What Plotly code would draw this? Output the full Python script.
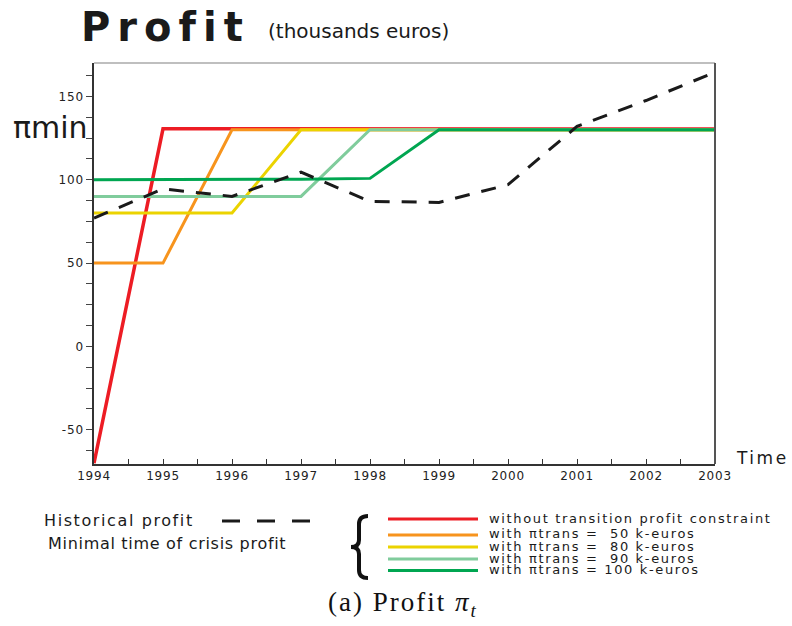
import plotly.graph_objects as go

# ---------------- data ----------------
years = [1994, 1995, 1996, 1997, 1998, 1999, 2000, 2001, 2002, 2003]
historical = [77, 94.5, 90, 104.5, 87, 86.4, 97, 132, 147.5, 164.5]
no_constraint = [-70, 130.5, 130.5, 130.5, 130.5, 130.6, 130.6, 130.7, 130.7, 130.4]
trans_50 = [50, 50, 130, 130, 130, 130, 130, 130, 130, 129.8]
trans_80 = [80, 80, 80, 130, 130, 130, 130, 130, 130, 129.8]
trans_90 = [90, 90, 90, 90, 130, 130, 130, 130, 130, 129.8]
trans_100 = [100, 100, 100, 100.3, 100.8, 130, 130, 130, 130, 130]

series_names = [
    "without transition profit constraint",
    "with \u03c0trans =\u00a0 50 k-euros",
    "with \u03c0trans =\u00a0 80 k-euros",
    "with \u03c0trans =\u00a0 90 k-euros",
    "with \u03c0trans = 100 k-euros",
]
series_values = [no_constraint, trans_50, trans_80, trans_90, trans_100]
series_colors = ["#ED1C24", "#F7941D", "#EBD300", "#80CC9C", "#00A651"]
series_widths = [3.5, 3, 3, 3, 3]

y_ticks = [-50, 0, 50, 100, 150]
y_labels = ["-50", "0", "50", "100", "150"]
x_ticks = years

# ---------------- layout geometry (pixels) ----------------
W, H = 792, 626
L, R, T, B = 94, 715, 63, 464


def px(x, y):
    """pixel -> paper coordinates"""
    return (x - L) / (R - L), (B - y) / (B - T)


def spaced(s, ls):
    return f'<span style="letter-spacing:{ls}px">{s}</span>'


fig = go.Figure()

for name, vals, col, w in zip(series_names, series_values, series_colors, series_widths):
    fig.add_trace(go.Scatter(x=years, y=vals, mode="lines", name=name,
                             line=dict(color=col, width=w), showlegend=False))

fig.add_trace(go.Scatter(x=years, y=historical, mode="lines", name="Historical profit",
                         line=dict(color="#1a1a1a", width=3, dash="15px,12px"),
                         showlegend=False))

fig.update_layout(
    width=W, height=H,
    margin=dict(l=L, r=W - R, t=T, b=H - B, pad=0),
    paper_bgcolor="white", plot_bgcolor="white",
    font=dict(family="DejaVu Sans", color="#222"),
    showlegend=False,
)

fig.update_xaxes(
    range=[1994, 2003], tickmode="array", tickvals=x_ticks,
    ticktext=[spaced(str(v), 0.8) for v in x_ticks],
    ticks="inside", ticklen=5, tickcolor="#333", tickwidth=1,
    minor=dict(dtick=0.5, tick0=1994, ticks="inside", ticklen=5, tickcolor="#333"),
    showline=True, linecolor="#333", linewidth=1.5,
    showgrid=False, zeroline=False,
    tickfont=dict(size=12, family="DejaVu Sans", color="#222"),
)
fig.update_yaxes(
    range=[-70.5, 170], tickmode="array", tickvals=y_ticks,
    ticktext=[spaced(v, 0.8) for v in y_labels],
    ticks="outside", ticklen=6, tickcolor="#444", tickwidth=1,
    minor=dict(dtick=12.5, tick0=0, ticks="outside", ticklen=6, tickcolor="#444"),
    showline=True, linecolor="#333", linewidth=1.5,
    showgrid=False, zeroline=False,
    tickfont=dict(size=12, family="DejaVu Sans", color="#222"),
)

shapes = []
# top (light) and right border lines
shapes.append(dict(type="line", xref="paper", yref="paper", x0=0, y0=1, x1=1, y1=1,
                   line=dict(color="#aaaaaa", width=1.5)))
shapes.append(dict(type="line", xref="paper", yref="paper", x0=1, y0=0, x1=1, y1=1,
                   line=dict(color="#555555", width=2)))

annotations = []


def text(s, x, y, size, family="DejaVu Sans", xanchor="left", color="#222", weight="normal"):
    xp, yp = px(x, y)
    annotations.append(dict(text=s, x=xp, y=yp, xref="paper", yref="paper",
                            xanchor=xanchor, yanchor="middle", showarrow=False,
                            font=dict(size=size, family=family, color=color, weight=weight)))


text(spaced("Profit", 7), 79, 27, 40, color="#1a1a1a", weight="bold")
text("(thousands euros)", 266, 31, 20, color="#1a1a1a")
text("\u03c0min", 11, 127, 30, color="#1a1a1a")
text(spaced("Time", 2.5), 734, 458, 17, color="#1a1a1a")

# legend block
text(spaced("Historical profit", 1.6), 42, 520, 16, color="#1a1a1a")
text(spaced("Minimal time of crisis profit", 0.7), 46, 543, 16, color="#1a1a1a")
for xd0, xd1 in [(222, 240), (257, 275), (292, 310)]:
    a0, b0 = px(xd0, 521)
    a1, b1 = px(xd1, 521)
    shapes.append(dict(type="line", xref="paper", yref="paper", x0=a0, y0=b0, x1=a1, y1=b1,
                       line=dict(color="#1a1a1a", width=3)))

legend_y = [519, 535, 547, 559, 570.5]
legend_text_y = [518, 533, 546, 558, 569]
for name, col, ly, ty in zip(series_names, series_colors, legend_y, legend_text_y):
    a0, b0 = px(388, ly)
    a1, b1 = px(478, ly)
    shapes.append(dict(type="line", xref="paper", yref="paper", x0=a0, y0=b0, x1=a1, y1=b1,
                       line=dict(color=col, width=3)))
    text(spaced(name, 1.65), 487, ty, 13, color="#1a1a1a")

# curly brace as path
pts = [("M", 368, 516), ("Q", 359, 516, 359, 524), ("L", 359, 540),
       ("Q", 359, 547, 351, 547), ("Q", 359, 547, 359, 554), ("L", 359, 570),
       ("Q", 359, 578, 368, 578)]
path = ""
for p in pts:
    cmd = p[0]
    coords = p[1:]
    parts = []
    for i in range(0, len(coords), 2):
        a, b = px(coords[i], coords[i + 1])
        parts.append(f"{a:.5f},{b:.5f}")
    path += cmd + " " + " ".join(parts) + " "
shapes.append(dict(type="path", xref="paper", yref="paper", path=path.strip(),
                   line=dict(color="#111", width=4)))

# caption
text(spaced("(a) Profit <i>\u03c0</i><sub><i>t</i></sub>", 2), 403, 604, 27,
     family="Liberation Serif", xanchor="center", color="#111")

fig.update_layout(shapes=shapes, annotations=annotations)
fig.write_html("out.html", config={"displayModeBar": False},
               post_script="document.body.style.margin='0px';")
